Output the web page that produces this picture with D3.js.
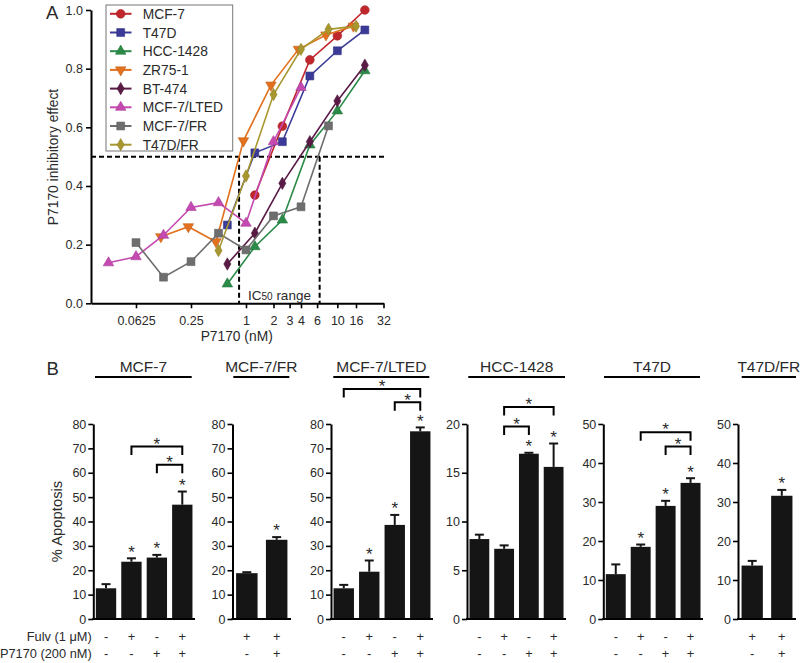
<!DOCTYPE html>
<html><head><meta charset="utf-8">
<script src="https://cdn.jsdelivr.net/npm/d3@7"></script>
<style>
body{margin:0;background:#fff}
svg{display:block;font-family:Arial,"Liberation Sans",sans-serif}
</style>
</head><body>
<svg id="c" width="800" height="663"></svg>
<script>
// ---------------- Panel A data ----------------
const seriesNames = ["MCF-7","T47D","HCC-1428","ZR75-1","BT-474","MCF-7/LTED","MCF-7/FR","T47D/FR"];
const doseMCF7 = [1.25, 2.5, 5, 10, 20];
const doseT47D = [0.625, 1.25, 2.5, 5, 10, 20];
const doseHCC = [0.625, 1.25, 2.5, 5, 10, 20];
const doseZR = [0.117, 0.234, 0.469, 0.938, 1.875, 3.75, 7.5, 15];
const doseBT = [0.625, 1.25, 2.5, 5, 10, 20];
const doseLTED = [0.03125, 0.0625, 0.125, 0.25, 0.5, 1, 2, 4];
const doseFR = [0.0625, 0.125, 0.25, 0.5, 1, 2, 4, 8];
const doseT47DFR = [0.5, 1, 2, 4, 8, 16];

const effMCF7 = [0.369, 0.604, 0.83, 0.912, 1.0];
const effT47D = [0.267, 0.513, 0.551, 0.775, 0.861, 0.932];
const effHCC = [0.066, 0.193, 0.284, 0.54, 0.656, 0.793];
const effZR = [0.227, 0.261, 0.21, 0.554, 0.744, 0.866, 0.915, 0.945];
const effBT = [0.134, 0.239, 0.409, 0.551, 0.69, 0.812];
const effLTED = [0.138, 0.159, 0.232, 0.327, 0.343, 0.273, 0.551, 0.736];
const effFR = [0.207, 0.089, 0.142, 0.239, 0.182, 0.298, 0.329, 0.605];
const effT47DFR = [0.18, 0.434, 0.712, 0.866, 0.934, 0.945];

const xTickValues = [0.0625, 0.25, 1, 2, 3, 4, 6, 10, 16, 32];
const xTickLabels = ["0.0625","0.25","1","2","3","4","6","10","16","32"];
const yTickValuesA = [0, 0.2, 0.4, 0.6, 0.8, 1.0];
const ic50Range = [0.84, 6.4];
const halfEffect = 0.5;

// styles
const seriesColors = ["#c0272d","#3b3a98","#2b8a48","#e2711f","#5a1a46","#c449b1","#6e6e6e","#a8972f"];
const seriesSymbols = [d3.symbolCircle, d3.symbolSquare, d3.symbolTriangle, "tri-down", d3.symbolDiamond, d3.symbolTriangle, d3.symbolSquare, d3.symbolDiamond];

// ---------------- Panel B data ----------------
const panelTitles = ["MCF-7","MCF-7/FR","MCF-7/LTED","HCC-1428","T47D","T47D/FR"];
const apopMCF7 = [12.6, 23.5, 25.2, 46.9];
const errMCF7  = [1.7, 1.4, 1.1, 5.4];
const sigMCF7  = [0, 1, 1, 1];
const apopFR   = [18.8, 32.5];
const errFR    = [0.4, 1.1];
const sigFR    = [0, 1];
const apopLTED = [12.6, 19.4, 38.6, 77.0];
const errLTED  = [1.4, 4.6, 4.1, 1.6];
const sigLTED  = [0, 1, 1, 1];
const apopHCC  = [8.2, 7.2, 16.95, 15.6];
const errHCC   = [0.45, 0.35, 0.1, 2.4];
const sigHCC   = [0, 0, 1, 1];
const apopT47D = [11.5, 18.5, 29.0, 34.9];
const errT47D  = [2.5, 0.6, 1.3, 1.2];
const sigT47D  = [0, 1, 1, 1];
const apopT47DFR = [13.7, 31.6];
const errT47DFR  = [1.2, 1.5];
const sigT47DFR  = [0, 1];

const fulv4 = ["-","+","-","+"], p71704 = ["-","-","+","+"];
const fulv2 = ["+","+"], p71702 = ["-","+"];

// bracket comparisons [from bar, to bar, level in data units]
const brMCF7 = [[1,3,70.8],[2,3,63.3]];
const brLTED = [[0,3,94.4],[2,3,88.9]];
const brHCC  = [[1,3,21.75],[1,2,19.75]];
const brT47D = [[1,3,47.9],[2,3,44.2]];

const yMaxB  = [80, 80, 80, 20, 50, 50];
const yStepB = [10, 10, 10, 5, 10, 10];

const panels = [
  {title: panelTitles[0], v: apopMCF7, e: errMCF7, s: sigMCF7, f: fulv4, p: p71704, br: brMCF7},
  {title: panelTitles[1], v: apopFR, e: errFR, s: sigFR, f: fulv2, p: p71702, br: []},
  {title: panelTitles[2], v: apopLTED, e: errLTED, s: sigLTED, f: fulv4, p: p71704, br: brLTED},
  {title: panelTitles[3], v: apopHCC, e: errHCC, s: sigHCC, f: fulv4, p: p71704, br: brHCC},
  {title: panelTitles[4], v: apopT47D, e: errT47D, s: sigT47D, f: fulv4, p: p71704, br: brT47D},
  {title: panelTitles[5], v: apopT47DFR, e: errT47DFR, s: sigT47DFR, f: fulv2, p: p71702, br: []}
];
// layout
const axisX   = [93.3, 232.5, 331, 467, 603.3, 738];
const axisEnd = [195, 291, 433, 566, 703, 796];
const titleL  = [95, 233.3, 333.3, 468.3, 604, 741.7];
const titleR  = [191.7, 289.3, 429.3, 565, 700, 796];

const svg = d3.select("#c");
const TXT = "#2a2a2a";
const STAR = 17;      // star font size
const STAR_OFF = 9.3; // baseline offset to glyph centre

// ================= PANEL A =================
const xA = d3.scaleLog().base(2).domain([Math.pow(2,-5.636), 32]).range([91, 383.5]);
const yA = d3.scaleLinear().domain([0, 1]).range([303.3, 10]);
const gA = svg.append("g");

const yAx = gA.append("g").attr("transform","translate(91,0)")
  .call(d3.axisLeft(yA).tickValues(yTickValuesA).tickFormat(d3.format(".1f")).tickSize(5).tickSizeOuter(0).tickPadding(3));
const xAx = gA.append("g").attr("transform","translate(0,303.3)")
  .call(d3.axisBottom(xA).tickValues(xTickValues).tickFormat((d,i)=>xTickLabels[i]).tickSize(5).tickSizeOuter(0).tickPadding(8));
[yAx, xAx].forEach(a=>{
  a.select(".domain").attr("stroke","#000").attr("stroke-width",2);
  a.selectAll(".tick line").attr("stroke","#000").attr("stroke-width",1.6);
  a.selectAll(".tick text").attr("font-size",12.5).attr("fill",TXT).attr("font-family","Arial, 'Liberation Sans', sans-serif");
});

gA.append("line").attr("x1",xA.range()[0]).attr("x2",387).attr("y1",yA(halfEffect)).attr("y2",yA(halfEffect))
  .attr("stroke","#000").attr("stroke-width",2).attr("stroke-dasharray","5,3");
ic50Range.forEach(v=>{
  gA.append("line").attr("x1",xA(v)).attr("x2",xA(v)).attr("y1",yA(halfEffect)).attr("y2",yA(0))
    .attr("stroke","#000").attr("stroke-width",2).attr("stroke-dasharray","5,3");
});
const icT = gA.append("text").attr("x",248).attr("y",299.5).attr("font-size",13.5).attr("fill",TXT);
icT.append("tspan").text("IC");
icT.append("tspan").attr("font-size",10).attr("dy",0.5).text("50");
icT.append("tspan").attr("dy",-0.5).text(" range");

const doses = [doseMCF7, doseT47D, doseHCC, doseZR, doseBT, doseLTED, doseFR, doseT47DFR];
const effs = [effMCF7, effT47D, effHCC, effZR, effBT, effLTED, effFR, effT47DFR];

function symPath(sym, size){
  if (sym === "tri-down") return d3.symbol().type(d3.symbolTriangle).size(size)();
  return d3.symbol().type(sym).size(size)();
}
function symSize(i){
  const s = seriesSymbols[i];
  if (s === d3.symbolCircle) return 60;
  if (s === d3.symbolSquare) return 62;
  if (s === d3.symbolDiamond) return 44;
  return 48;
}
function symRot(i){ return seriesSymbols[i] === "tri-down" ? " rotate(180)" : ""; }

const line = d3.line().x(d=>xA(d[0])).y(d=>yA(d[1]));
seriesNames.forEach((name,i)=>{
  const pts = doses[i].map((d,j)=>[d, effs[i][j]]);
  const g = gA.append("g");
  g.append("path").attr("d", line(pts)).attr("fill","none").attr("stroke",seriesColors[i]).attr("stroke-width",1.6);
  g.selectAll("path.m").data(pts).enter().append("path").attr("class","m")
    .attr("d", symPath(seriesSymbols[i], symSize(i)))
    .attr("transform", d=>`translate(${xA(d[0])},${yA(d[1])})${symRot(i)}`)
    .attr("fill", seriesColors[i]).attr("stroke", d3.color(seriesColors[i]).darker(0.4)).attr("stroke-width",0.6);
});

const lg = gA.append("g");
lg.append("rect").attr("x",106).attr("y",5).attr("width",126.7).attr("height",146).attr("fill","#fff").attr("stroke","#777").attr("stroke-width",1);
seriesNames.forEach((name,i)=>{
  const y = 13.8 + i*18.7;
  lg.append("line").attr("x1",110).attr("x2",131.5).attr("y1",y).attr("y2",y).attr("stroke",seriesColors[i]).attr("stroke-width",2);
  lg.append("path").attr("d", symPath(seriesSymbols[i], symSize(i)))
    .attr("transform",`translate(120.7,${y})${symRot(i)}`).attr("fill",seriesColors[i]).attr("stroke", d3.color(seriesColors[i]).darker(0.4)).attr("stroke-width",0.6);
  lg.append("text").attr("x",142.7).attr("y",y+5).attr("font-size",13.8).attr("fill",TXT).text(name);
});

gA.append("text").attr("x",46).attr("y",18.5).attr("font-size",18.5).attr("fill",TXT).text("A");
gA.append("text").attr("transform","translate(58,157) rotate(-90)").attr("text-anchor","middle").attr("font-size",13.8).attr("fill",TXT).text("P7170 inhibitory effect");
gA.append("text").attr("x",236.7).attr("y",340.5).attr("text-anchor","middle").attr("font-size",13.8).attr("fill",TXT).text("P7170 (nM)");

// ================= PANEL B =================
const gB = svg.append("g");
gB.append("text").attr("x",46.5).attr("y",375).attr("font-size",18.5).attr("fill",TXT).text("B");
gB.append("text").attr("transform","translate(61.5,521.5) rotate(-90)").attr("text-anchor","middle").attr("font-size",14.8).attr("fill",TXT).text("% Apoptosis");
gB.append("text").attr("x",91.7).attr("y",641).attr("text-anchor","end").attr("font-size",12.8).attr("fill",TXT).text("Fulv (1 \u03bcM)");
gB.append("text").attr("x",91.7).attr("y",658).attr("text-anchor","end").attr("font-size",12.8).attr("fill",TXT).text("P7170 (200 nM)");

panels.forEach((P,k)=>{
  const g = gB.append("g");
  const n = P.v.length;
  const x = d3.scaleBand().domain(d3.range(n)).range([axisX[k], axisEnd[k]])
    .paddingInner(n===4 ? 0.2 : 0.28).paddingOuter(n===4 ? 0.1 : 0.12);
  const y = d3.scaleLinear().domain([0, yMaxB[k]]).range([619, 424]);
  const bw = x.bandwidth();
  g.append("text").attr("x",(titleL[k]+titleR[k])/2).attr("y",371.7).attr("text-anchor","middle")
    .attr("font-size",15.5).attr("fill",TXT).text(P.title);
  g.append("line").attr("x1",titleL[k]).attr("x2",titleR[k]).attr("y1",377).attr("y2",377).attr("stroke","#000").attr("stroke-width",2.2);

  g.selectAll("rect.bar").data(P.v).enter().append("rect")
    .attr("x",(d,i)=>x(i)).attr("width",bw).attr("y",d=>y(d)).attr("height",d=>619-y(d)).attr("fill","#151515");
  P.v.forEach((d,i)=>{
    const cx = x(i)+bw/2, yt = y(d+P.e[i]);
    g.append("line").attr("x1",cx).attr("x2",cx).attr("y1",y(d)).attr("y2",yt).attr("stroke","#151515").attr("stroke-width",2);
    g.append("line").attr("x1",cx-4.5).attr("x2",cx+4.5).attr("y1",yt).attr("y2",yt).attr("stroke","#151515").attr("stroke-width",2);
    if (P.s[i]) g.append("text").attr("x",cx).attr("y",yt-10+STAR_OFF).attr("text-anchor","middle").attr("font-size",STAR).attr("fill",TXT).text("*");
    g.append("text").attr("x",cx).attr("y",641).attr("text-anchor","middle").attr("font-size",12.8).attr("fill",TXT).text(P.f[i]);
    g.append("text").attr("x",cx).attr("y",658).attr("text-anchor","middle").attr("font-size",12.8).attr("fill",TXT).text(P.p[i]);
  });
  P.br.forEach(b=>{
    const x1 = x(b[0])+bw/2, x2 = x(b[1])+bw/2, yy = y(b[2]);
    g.append("path").attr("d",`M${x1},${yy+8.5}L${x1},${yy}L${x2},${yy}L${x2},${yy+8.5}`)
      .attr("fill","none").attr("stroke","#000").attr("stroke-width",2);
    g.append("text").attr("x",(x1+x2)/2).attr("y",yy-6+STAR_OFF).attr("text-anchor","middle").attr("font-size",STAR).attr("fill",TXT).text("*");
  });
  const ya = g.append("g").attr("transform",`translate(${axisX[k]},0)`)
    .call(d3.axisLeft(y).tickValues(d3.range(0, yMaxB[k]+0.01, yStepB[k])).tickSize(5).tickSizeOuter(0).tickPadding(2));
  ya.select(".domain").attr("stroke","#000").attr("stroke-width",2);
  ya.selectAll(".tick line").attr("stroke","#000").attr("stroke-width",1.6);
  ya.selectAll(".tick text").attr("font-size",12.5).attr("fill",TXT).attr("font-family","Arial, 'Liberation Sans', sans-serif");
  g.append("line").attr("x1",axisX[k]-1).attr("x2",axisEnd[k]).attr("y1",619).attr("y2",619).attr("stroke","#000").attr("stroke-width",2);
});
</script>
</body></html>
